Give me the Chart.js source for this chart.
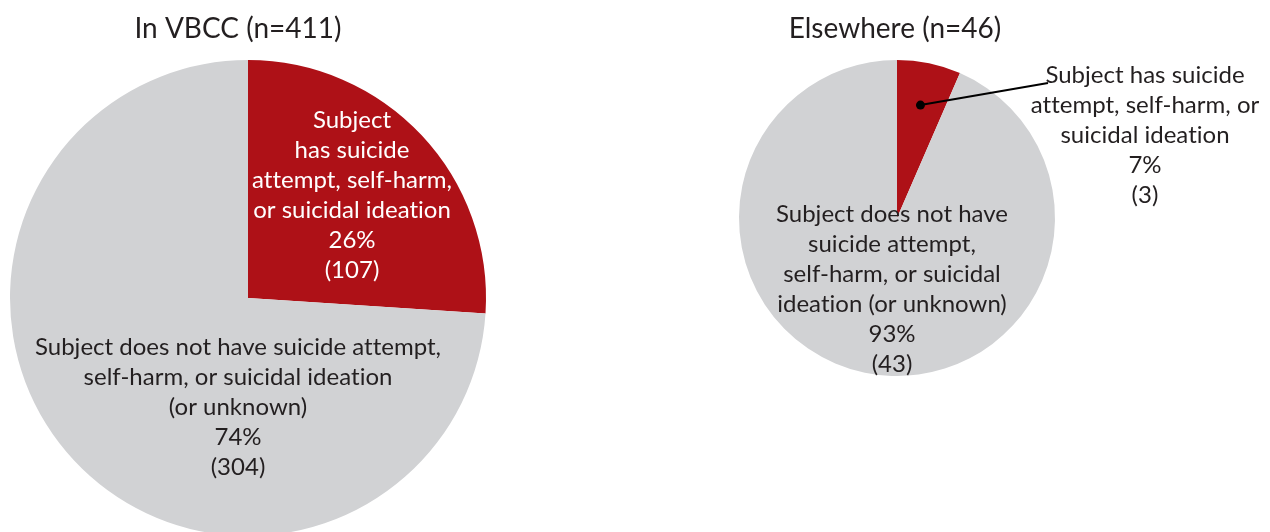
<!DOCTYPE html>
<html><head><meta charset="utf-8">
<script src="https://cdn.jsdelivr.net/npm/chart.js@4/dist/chart.umd.min.js"></script>
<style>
html,body{margin:0;padding:0;background:#fff;overflow:hidden;width:1270px;height:532px;}
.wrap{position:absolute;}
#w1{left:0;top:0;width:500px;height:560px;}
#w2{left:640px;top:0;width:630px;height:532px;}
</style></head><body>
<div class="wrap" id="w1"><canvas id="c1"></canvas></div>
<div class="wrap" id="w2"><canvas id="c2"></canvas></div>
<script>
// ---- data ----
const groupTitles = ["In VBCC (n=411)", "Elsewhere (n=46)"];
const categories = [
  "Subject has suicide attempt, self-harm, or suicidal ideation",
  "Subject does not have suicide attempt, self-harm, or suicidal ideation (or unknown)"
];
const vbccCounts = [107, 304];
const elsewhereCounts = [3, 43];
const vbccLabelLines = [
  ["Subject", "has suicide", "attempt, self-harm,", "or suicidal ideation"],
  ["Subject does not have suicide attempt,", "self-harm, or suicidal ideation", "(or unknown)"]
];
const elsewhereLabelLines = [
  ["Subject has suicide", "attempt, self-harm, or", "suicidal ideation"],
  ["Subject does not have", "suicide attempt,", "self-harm, or suicidal", "ideation (or unknown)"]
];
const sliceColors = ["#AE1117", "#D1D2D4"];

const FONT = "Lato, 'Open Sans', sans-serif";

const labelPlugin = {
  id: 'pieText',
  afterDraw(chart, args, opts) {
    const ctx = chart.ctx;
    const data = chart.data.datasets[0].data;
    const total = data.reduce((a, b) => a + b, 0);
    ctx.save();
    try { ctx.textRendering = 'optimizeSpeed'; } catch (e) {}
    try { ctx.letterSpacing = '0.01px'; } catch (e) {}
    ctx.textAlign = 'center';
    ctx.textBaseline = 'alphabetic';
    ctx.fillStyle = '#231F20';
    ctx.font = `${opts.titleSize}px ${FONT}`;
    ctx.fillText(opts.title, opts.titleX, opts.titleY);
    const arcs = chart.getDatasetMeta(0).data;
    opts.blocks.forEach((b, i) => {
      const lines = opts.lines[i].concat([
        Math.round(data[i] / total * 100) + '%',
        '(' + data[i] + ')'
      ]);
      if (b.leader) {
        const arc = arcs[i];
        const mid = (arc.startAngle + arc.endAngle) / 2;
        const px = arc.x + Math.cos(mid) * arc.outerRadius * b.leader.r;
        const py = arc.y + Math.sin(mid) * arc.outerRadius * b.leader.r;
        ctx.strokeStyle = '#000';
        ctx.lineWidth = 2;
        ctx.beginPath();
        ctx.moveTo(px, py);
        ctx.lineTo(b.leader.x, b.leader.y);
        ctx.stroke();
        ctx.fillStyle = '#000';
        ctx.beginPath();
        ctx.arc(px, py, 4.5, 0, Math.PI * 2);
        ctx.fill();
      }
      ctx.fillStyle = b.color;
      ctx.font = `${opts.labelSize}px ${FONT}`;
      lines.forEach((t, k) => ctx.fillText(t, b.x, b.y + k * opts.lineH));
    });
    ctx.restore();
  }
};

function makePie(id, counts, title, lines, padding, pluginOpts) {
  return new Chart(document.getElementById(id), {
    type: 'pie',
    data: {
      labels: categories,
      datasets: [{
        data: counts,
        backgroundColor: sliceColors,
        borderWidth: 0,
        hoverOffset: 0,
        offset: 0
      }]
    },
    options: {
      responsive: true,
      maintainAspectRatio: false,
      animation: false,
      events: [],
      layout: { padding },
      plugins: {
        legend: { display: false },
        tooltip: { enabled: false },
        title: { display: false },
        pieText: Object.assign({ title, lines }, pluginOpts)
      }
    },
    plugins: [labelPlugin]
  });
}

makePie('c1', vbccCounts, groupTitles[0], vbccLabelLines,
  { left: 10, right: 14, top: 60, bottom: 24 },
  {
    titleSize: 28, titleX: 238, titleY: 38, labelSize: 24, lineH: 30,
    blocks: [
      { x: 352, y: 128, color: '#FFFFFF' },
      { x: 238, y: 355, color: '#231F20' }
    ]
  });

makePie('c2', elsewhereCounts, groupTitles[1], elsewhereLabelLines,
  { left: 99, right: 215, top: 60, bottom: 156 },
  {
    titleSize: 28, titleX: 255, titleY: 38, labelSize: 24, lineH: 30,
    blocks: [
      { x: 505, y: 83, color: '#231F20', leader: { r: 0.73, x: 408, y: 83 } },
      { x: 252, y: 222, color: '#231F20' }
    ]
  });
</script>
</body></html>
